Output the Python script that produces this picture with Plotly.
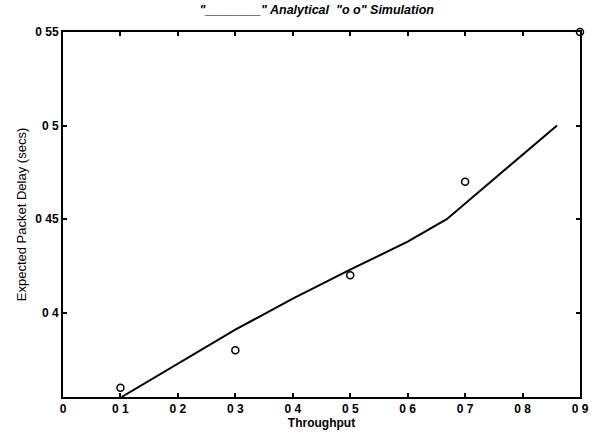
import plotly.graph_objects as go

# Analytical curve
analytical_x = [0.102, 0.2, 0.3, 0.4, 0.5, 0.6, 0.668, 0.76, 0.86]
analytical_y = [0.355, 0.373, 0.391, 0.4075, 0.423, 0.438, 0.45, 0.474, 0.50]

# Simulation points
sim_x = [0.1, 0.3, 0.5, 0.7, 0.9]
sim_y = [0.36, 0.38, 0.42, 0.47, 0.55]

x_tickvals = [0, 0.1, 0.2, 0.3, 0.4, 0.5, 0.6, 0.7, 0.8, 0.9]
x_ticktext = ["0", "0 1", "0 2", "0 3", "0 4", "0 5", "0 6", "0 7", "0 8", "0 9"]
y_tickvals = [0.4, 0.45, 0.5, 0.55]
y_ticktext = ["0 4", "0 45", "0 5", "0 55"]

title_text = "\"________\" Analytical  \"o o\" Simulation"

fig = go.Figure()
fig.add_trace(go.Scatter(x=analytical_x, y=analytical_y, mode="lines",
                         line=dict(color="black", width=2), cliponaxis=False,
                         showlegend=False))
fig.add_trace(go.Scatter(x=sim_x, y=sim_y, mode="markers",
                         marker=dict(symbol="circle-open", size=7, color="black",
                                     line=dict(width=1.5, color="black")),
                         cliponaxis=False, showlegend=False))

font_family = "Liberation Sans, Arial, sans-serif"
fig.update_layout(
    width=592, height=434,
    margin=dict(l=63, r=12, t=32, b=37),
    paper_bgcolor="white", plot_bgcolor="white",
    font=dict(family=font_family, size=12, color="black"),
    title=dict(text="<b><i>" + title_text + "</i></b>", x=0.535, xanchor="center",
               y=0.988, yanchor="top", font=dict(size=12.5, color="black")),
    showlegend=False,
)
fig.update_xaxes(range=[0, 0.9], tickvals=x_tickvals, ticktext=x_ticktext,
                 ticks="inside", ticklen=4, tickwidth=1.5, tickcolor="black",
                 showline=True, linecolor="black", linewidth=2, mirror="ticks",
                 showgrid=False, zeroline=False, automargin=False,
                 tickfont=dict(size=12, family=font_family, weight="bold"),
                 title=dict(text="Throughput", standoff=2,
                            font=dict(size=12, weight="bold")))
fig.update_yaxes(range=[0.355, 0.55], tickvals=y_tickvals, ticktext=y_ticktext,
                 ticks="inside", ticklen=4, tickwidth=1.5, tickcolor="black",
                 showline=True, linecolor="black", linewidth=2, mirror="ticks",
                 showgrid=False, zeroline=False, automargin=False,
                 tickfont=dict(size=12, family=font_family, weight="bold"),
                 title=dict(text="Expected Packet Delay (secs)", standoff=6,
                            font=dict(size=13)))

fig.write_html("out.html")
